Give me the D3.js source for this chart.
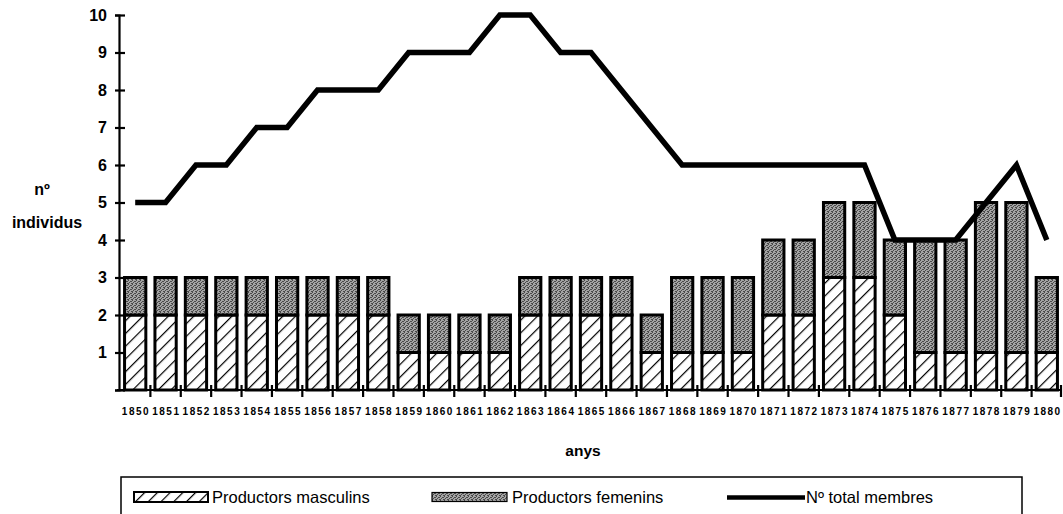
<!DOCTYPE html>
<html><head><meta charset="utf-8">
<script src="https://cdn.jsdelivr.net/npm/d3@7"></script>
<style>body{margin:0;background:#fff}svg{display:block}text{font-family:Arial,"Liberation Sans",sans-serif;fill:#000}</style>
</head><body><svg id="c" width="1063" height="514"></svg>
<script>
const years = ["1850","1851","1852","1853","1854","1855","1856","1857","1858","1859","1860","1861","1862","1863","1864","1865","1866","1867","1868","1869","1870","1871","1872","1873","1874","1875","1876","1877","1878","1879","1880"];
const masculins = [2,2,2,2,2,2,2,2,2,1,1,1,1,2,2,2,2,1,1,1,1,2,2,3,3,2,1,1,1,1,1];
const femenins  = [1,1,1,1,1,1,1,1,1,1,1,1,1,1,1,1,1,1,2,2,2,2,2,2,2,2,3,3,4,4,2];
const total     = [5,5,6,6,7,7,8,8,8,9,9,9,10,10,9,9,8,7,6,6,6,6,6,6,6,4,4,4,5,6,4];
const yTicks = [0,1,2,3,4,5,6,7,8,9,10];
const labels = {y1:"nº", y2:"individus", x:"anys", masc:"Productors masculins", fem:"Productors femenins", tot:"Nº total membres"};

const svg = d3.select("#c");
const defs = svg.append("defs");
const hp = defs.append("pattern").attr("id","hatch").attr("patternUnits","userSpaceOnUse").attr("width",9).attr("height",9).attr("patternTransform","rotate(45)");
hp.append("rect").attr("width",9).attr("height",9).attr("fill","#fff");
hp.append("line").attr("x1",0).attr("y1",0).attr("x2",0).attr("y2",9).attr("stroke","#000").attr("stroke-width",2.4);
const gp = defs.append("pattern").attr("id","grey").attr("patternUnits","userSpaceOnUse").attr("width",4).attr("height",4);
gp.append("rect").attr("width",4).attr("height",4).attr("fill","#a4a4a4");
[[0,0],[2,1],[1,2],[3,3],[0,3],[3,1]].forEach(([a,b])=>gp.append("rect").attr("x",a).attr("y",b).attr("width",1).attr("height",1).attr("fill","#4a4a4a"));

const x0 = 120, x1 = 1062, yTop = 15, yBot = 390;
const x = d3.scaleBand().domain(years).range([x0,x1]).paddingInner(0.3).paddingOuter(0.15);
const xb = d3.scaleBand().domain(years).range([x0,x1]);
const y = d3.scaleLinear().domain([0,10]).range([yBot,yTop]);

const g = svg.append("g");
years.forEach((yr,i)=>{
  const bx = x(yr), bw = x.bandwidth();
  g.append("rect").attr("x",bx).attr("width",bw).attr("y",y(masculins[i])).attr("height",y(0)-y(masculins[i])).attr("fill","url(#hatch)").attr("stroke","#000").attr("stroke-width",3);
  g.append("rect").attr("x",bx).attr("width",bw).attr("y",y(masculins[i]+femenins[i])).attr("height",y(masculins[i])-y(masculins[i]+femenins[i])).attr("fill","url(#grey)").attr("stroke","#000").attr("stroke-width",3);
});

// y axis
const ya = svg.append("g").attr("transform",`translate(119,0)`).call(d3.axisLeft(y).tickValues(yTicks).tickSize(4).tickFormat(d=>d===0?"":d));
ya.select(".domain").attr("stroke","#000").attr("stroke-width",2.2);
ya.selectAll(".tick line").attr("x1",-4).attr("x2",6).attr("stroke","#000").attr("stroke-width",2.2);
ya.selectAll(".tick text").attr("x",-12).attr("font-size",16).style("font-weight","bold").attr("fill","#000");

// x axis
const xa = svg.append("g").attr("transform",`translate(0,${yBot})`).call(d3.axisBottom(xb).tickSize(0));
xa.select(".domain").remove();
xa.append("line").attr("x1",117).attr("x2",x1).attr("stroke","#000").attr("stroke-width",2.2);
xa.selectAll(".tick text").attr("y",25).attr("dy",0).attr("dx",0.75).attr("font-size",10).attr("letter-spacing","1.5px").style("font-weight","bold").attr("fill","#000");
const bounds = years.map(yr=>xb(yr)).slice(1).concat([x1-1]);
xa.selectAll(".bt").data(bounds).enter().append("line").attr("x1",d=>d).attr("x2",d=>d).attr("y1",-5).attr("y2",7).attr("stroke","#000").attr("stroke-width",2.2);

// total line
const line = d3.line().x((d,i)=>x(years[i])+x.bandwidth()/2).y(d=>y(d));
svg.append("path").datum(total).attr("d",line).attr("fill","none").attr("stroke","#000").attr("stroke-width",5.5).attr("stroke-linejoin","miter");

// axis titles
svg.append("text").attr("x",42).attr("y",195).attr("text-anchor","middle").attr("font-size",16).style("font-weight","bold").text(labels.y1);
svg.append("text").attr("x",47).attr("y",228).attr("text-anchor","middle").attr("font-size",16).style("font-weight","bold").text(labels.y2);
svg.append("text").attr("x",583).attr("y",456).attr("text-anchor","middle").attr("font-size",15.5).style("font-weight","bold").text(labels.x);

// legend
const lg = svg.append("g");
lg.append("rect").attr("x",121).attr("y",477).attr("width",901).attr("height",60).attr("fill","none").attr("stroke","#000").attr("stroke-width",1.5);
lg.append("rect").attr("x",134).attr("y",492).attr("width",74).attr("height",10).attr("fill","url(#hatch)").attr("stroke","#000").attr("stroke-width",2);
lg.append("text").attr("x",212).attr("y",502.5).attr("font-size",16.5).text(labels.masc);
lg.append("rect").attr("x",432).attr("y",492.5).attr("width",75).attr("height",9).attr("fill","url(#grey)").attr("stroke","#000").attr("stroke-width",1.2);
lg.append("text").attr("x",512).attr("y",502.5).attr("font-size",16.5).text(labels.fem);
lg.append("line").attr("x1",727).attr("x2",805).attr("y1",497.5).attr("y2",497.5).attr("stroke","#000").attr("stroke-width",4.5);
lg.append("text").attr("x",806).attr("y",502.5).attr("font-size",16.5).text(labels.tot);
</script></body></html>
